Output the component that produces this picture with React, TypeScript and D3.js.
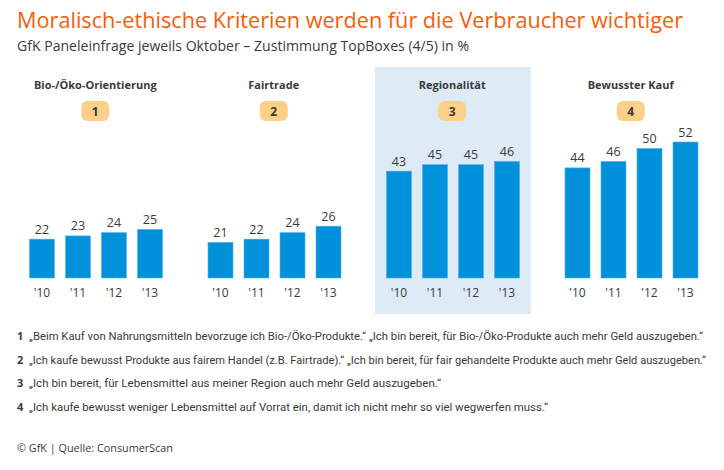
import React from "react";
import * as d3 from "d3";

const groups = ["Bio-/Öko-Orientierung", "Fairtrade", "Regionalität", "Bewusster Kauf"];
const badges = ["1", "2", "3", "4"];
const years = ["'10", "'11", "'12", "'13"];
const bioValues = [22, 23, 24, 25];
const fairValues = [21, 22, 24, 26];
const regioValues = [43, 45, 45, 46];
const kaufValues = [44, 46, 50, 52];
const seriesValues = [bioValues, fairValues, regioValues, kaufValues];
const highlighted = "Regionalität";

const title = "Moralisch-ethische Kriterien werden für die Verbraucher wichtiger";
const subtitle = "GfK Paneleinfrage jeweils Oktober – Zustimmung TopBoxes (4/5) in %";
const footnotes = [
  "„Beim Kauf von Nahrungsmitteln bevorzuge ich Bio-/Öko-Produkte.“ „Ich bin bereit, für Bio-/Öko-Produkte auch mehr Geld auszugeben.“",
  "„Ich kaufe bewusst Produkte aus fairem Handel (z.B. Fairtrade).“ „Ich bin bereit, für fair gehandelte Produkte auch mehr Geld auszugeben.“",
  "„Ich bin bereit, für Lebensmittel aus meiner Region auch mehr Geld auszugeben.“",
  "„Ich kaufe bewusst weniger Lebensmittel auf Vorrat ein, damit ich nicht mehr so viel wegwerfen muss.“",
];
const footnoteWidths = [674, 677, 412, 519];
const source = "© GfK | Quelle: ConsumerScan";

const FONT = "'Open Sans', 'Noto Sans', sans-serif";
const NARROW = "Roboto, 'Open Sans', sans-serif";
const TEXT = "#3a3a3a";

export default function App() {
  const W = 724;
  const H = 470;
  const x0 = d3.scaleBand<string>().domain(groups).range([6, 720]).padding(0);
  const x1 = d3
    .scaleBand<string>()
    .domain(years)
    .range([18, 162])
    .paddingInner(0.3056)
    .paddingOuter(0.1528);
  const y = d3.scaleLinear().domain([10, 52]).range([278, 142]);

  return (
    <svg
      width={W}
      height={H}
      viewBox={`0 0 ${W} ${H}`}
      style={{ position: "absolute", left: 0, top: 0, background: "#fff" }}
      fontFamily={FONT}
    >
      <rect x={0} y={0} width={W} height={H} fill="#fff" />
      <text x={17} y={28} fontSize={22} fill="#f35d0c" textLength={666} lengthAdjust="spacingAndGlyphs">
        {title}
      </text>
      <text x={17} y={51} fontSize={14} fill={TEXT} textLength={452} lengthAdjust="spacingAndGlyphs">
        {subtitle}
      </text>

      {groups.map((g, gi) => {
        const gx = x0(g) as number;
        const cx = gx + x0.bandwidth() / 2;
        const vals = seriesValues[gi];
        return (
          <g key={g}>
            {g === highlighted && (
              <rect x={gx + 12} y={67} width={156} height={247} fill="#deebf7" />
            )}
            <text x={cx} y={89} textAnchor="middle" fontSize={11} fontWeight="bold" fill={TEXT}>
              {g}
            </text>
            <rect x={cx - 14} y={101} width={28} height={20} rx={6} fill="#fdd08a" />
            <text x={cx} y={115.5} textAnchor="middle" fontSize={12} fontWeight="bold" fill={TEXT}>
              {badges[gi]}
            </text>
            {years.map((yr, i) => {
              const bx = gx + (x1(yr) as number);
              const v = vals[i];
              return (
                <g key={yr}>
                  <rect
                    x={bx}
                    y={y(v)}
                    width={x1.bandwidth()}
                    height={y(10) - y(v)}
                    fill="#0091da"
                    stroke="#4fb1e6"
                    strokeWidth={0.6}
                  />
                  <text
                    x={bx + x1.bandwidth() / 2}
                    y={y(v) - 5.5}
                    textAnchor="middle"
                    fontSize={12.5}
                    fill={TEXT}
                  >
                    {v}
                  </text>
                  <text
                    x={bx + x1.bandwidth() / 2}
                    y={297}
                    textAnchor="middle"
                    fontSize={12}
                    fill={TEXT}
                  >
                    {yr}
                  </text>
                </g>
              );
            })}
          </g>
        );
      })}

      {footnotes.map((f, i) => (
        <g key={i}>
          <text x={17} y={340 + i * 23.7} fontSize={11} fontWeight="bold" fill={TEXT}>
            {badges[i]}
          </text>
          <text
            x={29}
            y={340 + i * 23.7}
            fontSize={11}
            fontFamily={NARROW}
            fill={TEXT}
            textLength={footnoteWidths[i]}
            lengthAdjust="spacingAndGlyphs"
          >
            {f}
          </text>
        </g>
      ))}
      <text x={17} y={452} fontSize={11.5} fill={TEXT} textLength={156} lengthAdjust="spacingAndGlyphs">
        {source}
      </text>
    </svg>
  );
}
